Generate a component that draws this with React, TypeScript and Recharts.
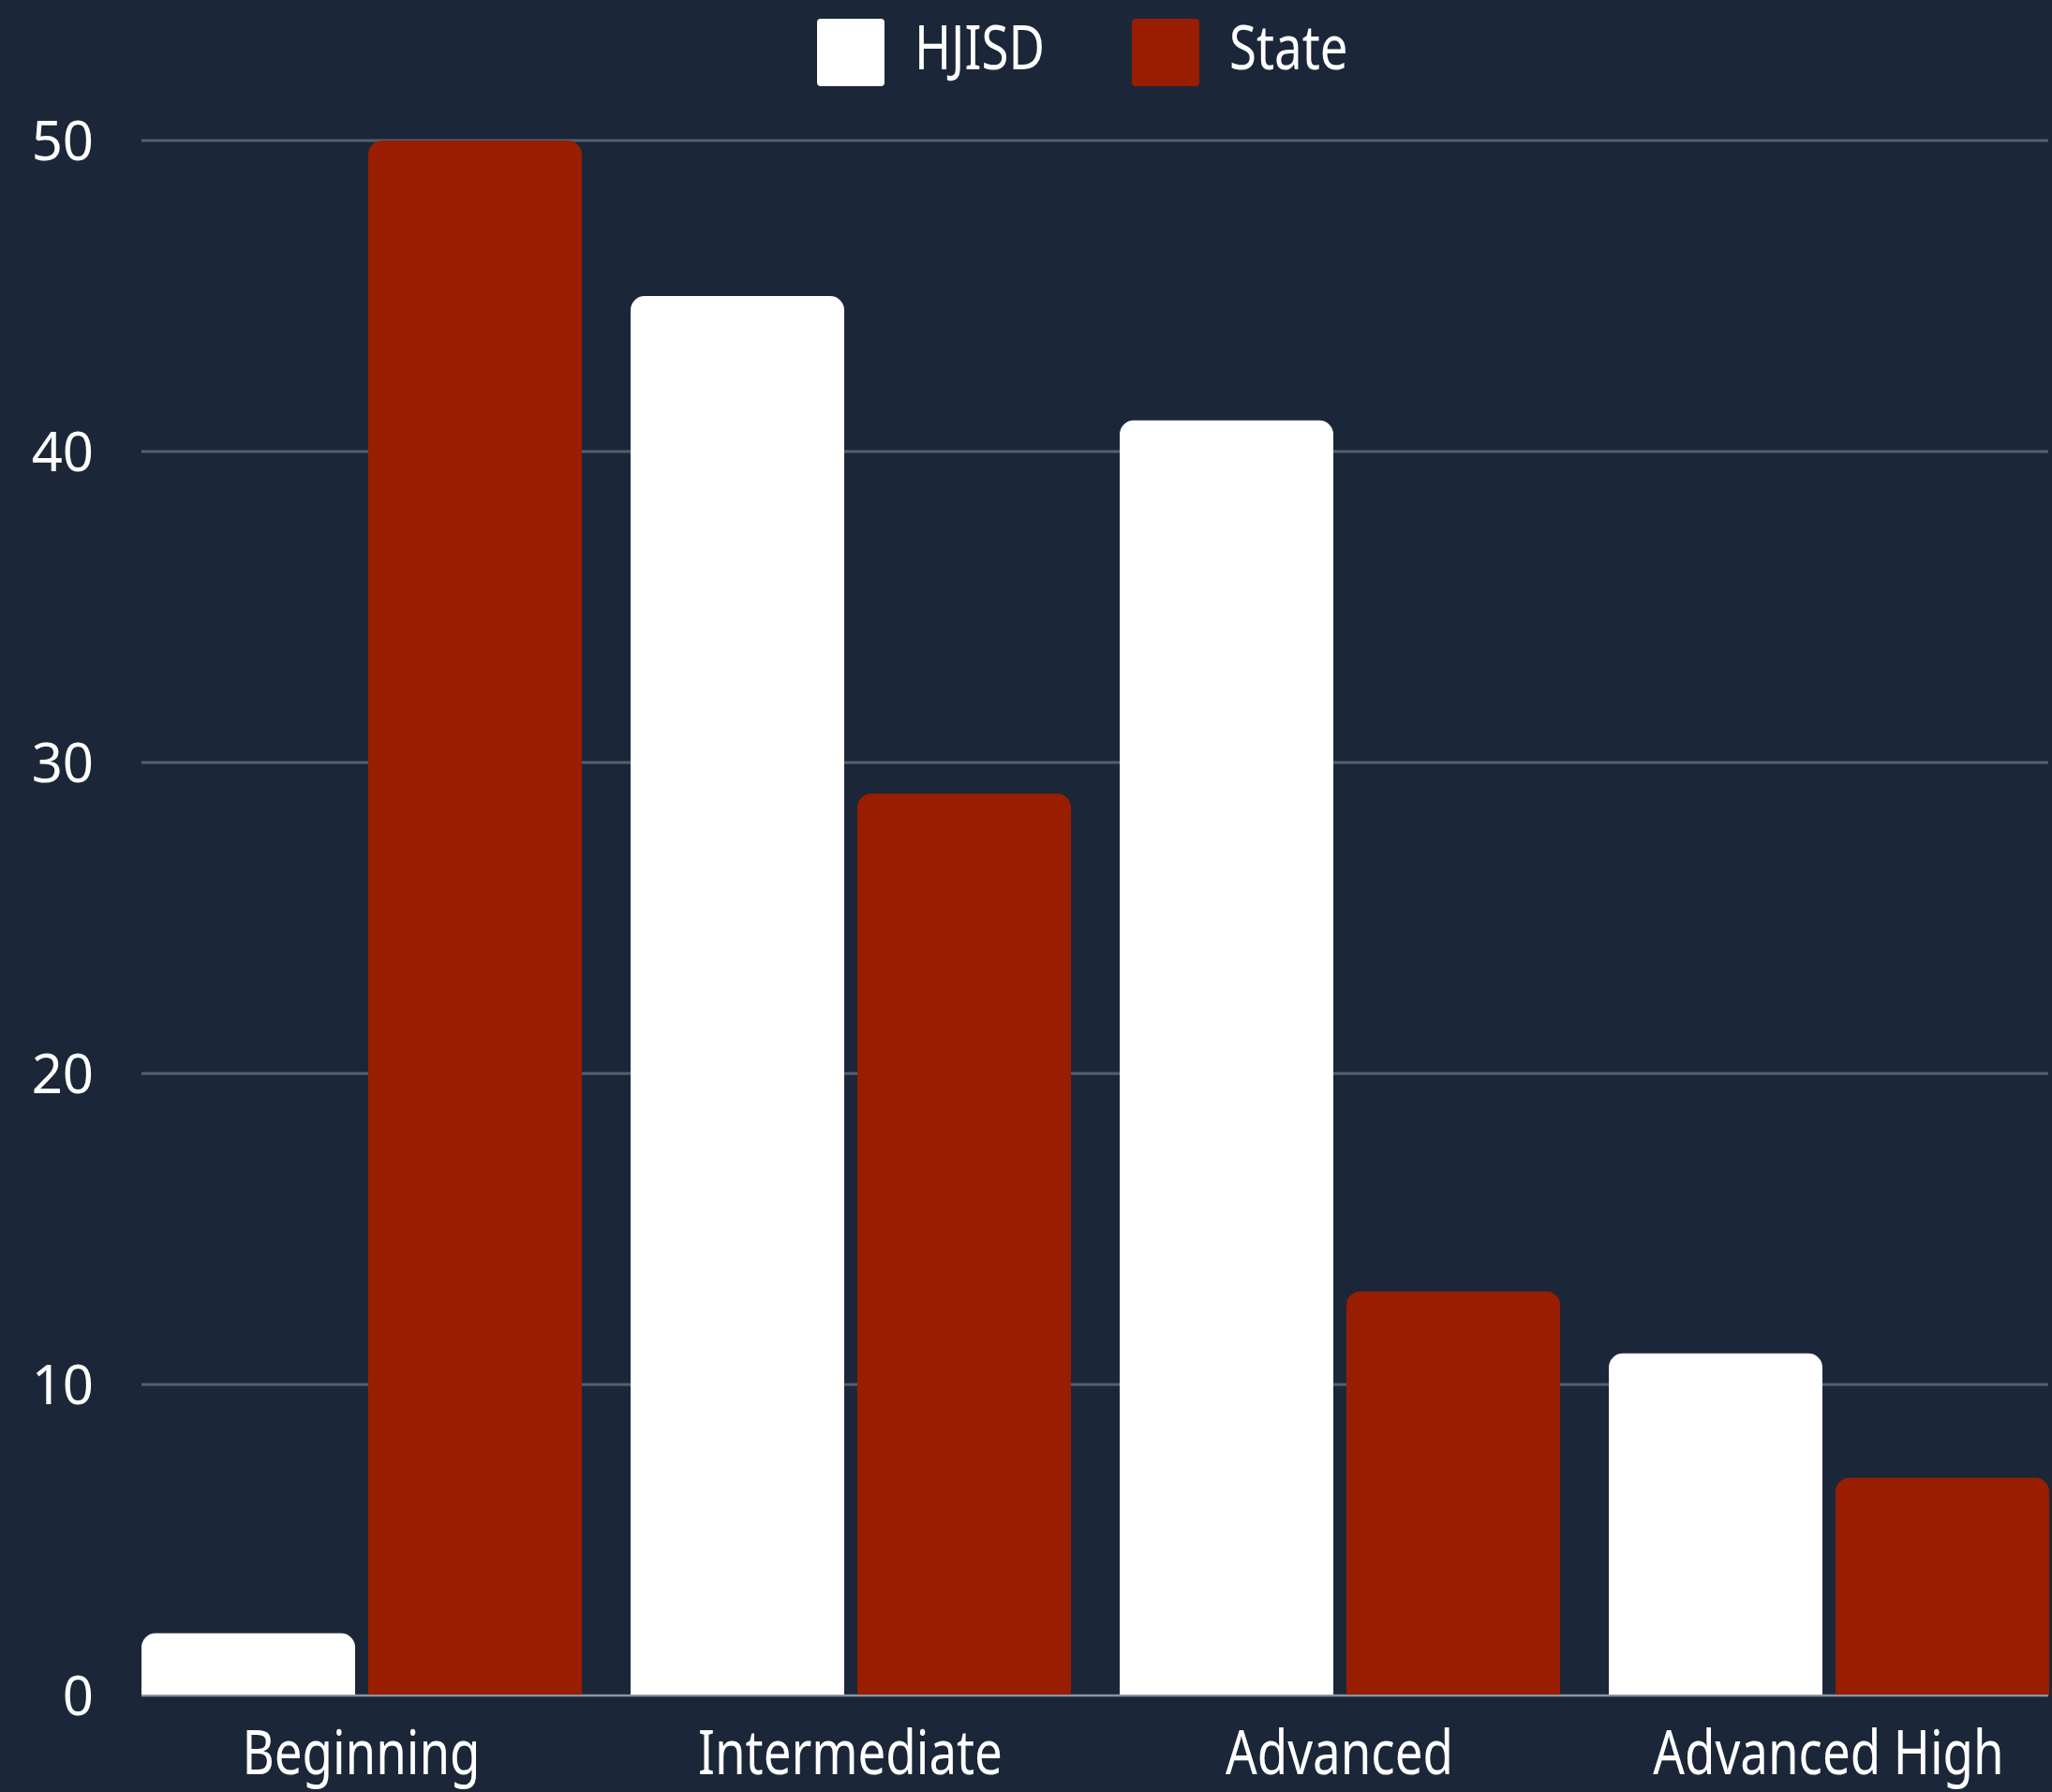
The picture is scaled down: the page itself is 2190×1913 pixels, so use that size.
import React from "react";
import { BarChart, Bar, XAxis, YAxis, CartesianGrid, Legend } from "recharts";

const categories = ["Beginning", "Intermediate", "Advanced", "Advanced High"];
const hjisdValues = [2, 45, 41, 11];
const stateValues = [50, 29, 13, 7];
const yTicks = [0, 10, 20, 30, 40, 50];

const BG = "#1b2738";
const RED = "#991d00";
const GRID = "#536070";
const FONT = "'Noto Sans', sans-serif";

const data = categories.map((name, i) => ({
  name,
  HJISD: hjisdValues[i],
  State: stateValues[i],
}));

if (typeof document !== "undefined") {
  document.body.style.margin = "0";
  document.body.style.background = BG;
}

// the original font is narrow, so squeeze Noto Sans a bit
function CategoryTick({ x, y, payload }: any) {
  return (
    <g transform={`translate(${x},${y})`}>
      <text
        x={0}
        y={0}
        dy="0.71em"
        textAnchor="middle"
        fill="#ffffff"
        fontSize={66}
        fontFamily={FONT}
        transform="scale(0.8,1)"
      >
        {payload.value}
      </text>
    </g>
  );
}

function LegendContent({ payload }: any) {
  return (
    <div
      style={{
        display: "flex",
        justifyContent: "center",
        paddingLeft: 134,
        height: 130,
      }}
    >
      {(payload || []).map((entry: any, i: number) => (
        <div
          key={`legend-${i}`}
          style={{ display: "flex", alignItems: "flex-start", marginLeft: i ? 92 : 0 }}
        >
          <div
            style={{ width: 72, height: 72, background: entry.color, borderRadius: 4 }}
          />
          <div style={{ width: 140, marginLeft: 32, marginTop: -17, overflow: "visible" }}>
            <span
              style={{
                display: "inline-block",
                whiteSpace: "nowrap",
                color: "#ffffff",
                fontFamily: FONT,
                fontSize: 66,
                lineHeight: "90px",
                transform: "scaleX(0.8)",
                transformOrigin: "left",
              }}
            >
              {entry.value}
            </span>
          </div>
        </div>
      ))}
    </div>
  );
}

export default function App() {
  return (
    <div style={{ width: 2190, height: 1913, background: BG }}>
      <BarChart
        width={2190}
        height={1913}
        data={data}
        margin={{ top: 20, right: 4, bottom: 0, left: 0 }}
        barCategoryGap={26.5}
        barGap={14}
      >
        <CartesianGrid vertical={false} stroke={GRID} strokeWidth={3} />
        <XAxis
          dataKey="name"
          height={103}
          padding={{ left: -26.5, right: -26.5 }}
          tickLine={false}
          tickSize={0}
          tickMargin={37}
          axisLine={{ stroke: "#8c95a1", strokeWidth: 2 }}
          tick={<CategoryTick />}
          interval={0}
        />
        <YAxis
          width={151}
          domain={[0, 50]}
          ticks={yTicks}
          axisLine={false}
          tickLine={false}
          tickSize={0}
          tickMargin={51}
          tick={{ fill: "#ffffff", fontSize: 58, fontFamily: FONT }}
        />
        <Legend
          verticalAlign="top"
          wrapperStyle={{ top: 20, left: 0, width: 2190 }}
          content={<LegendContent />}
        />
        <Bar
          dataKey="HJISD"
          name="HJISD"
          fill="#ffffff"
          radius={[15, 15, 0, 0]}
          isAnimationActive={false}
        />
        <Bar
          dataKey="State"
          name="State"
          fill={RED}
          radius={[15, 15, 0, 0]}
          isAnimationActive={false}
        />
      </BarChart>
    </div>
  );
}
